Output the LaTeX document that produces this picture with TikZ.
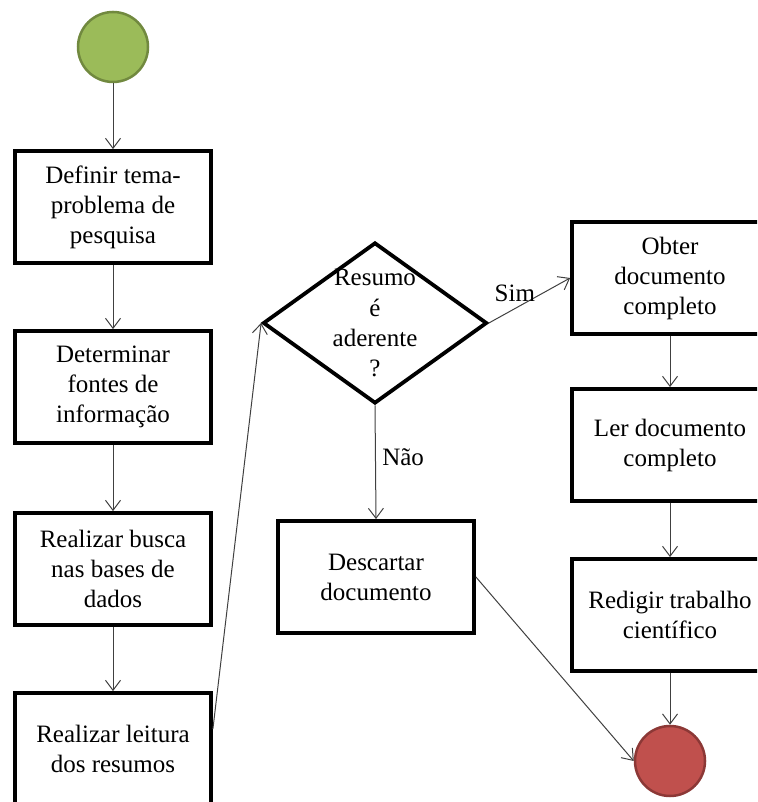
\documentclass[tikz,border=0pt]{standalone}
\usepackage{fontspec}
\setmainfont{Liberation Serif}
\usetikzlibrary{positioning, shapes.geometric, arrows.meta}
\definecolor{cinicio}{RGB}{155,187,89}
\definecolor{cinicioborda}{RGB}{113,137,63}
\definecolor{cfim}{RGB}{192,80,77}
\definecolor{cfimborda}{RGB}{140,56,54}
\definecolor{cseta}{RGB}{64,64,64}

\begin{document}
\begin{tikzpicture}[x=1pt, y=1pt, font=\fontsize{25}{30}\selectfont,
    >={Straight Barb[length=10pt, width=15pt]},
    etapa/.style={draw, line width=3.8pt, minimum width=196pt, minimum height=112pt, align=center, inner sep=0pt},
    decisao/.style={diamond, draw, line width=3.8pt, aspect=1.386, minimum width=224pt, minimum height=161pt, inner sep=-4pt, align=center},
    terminal/.style={circle, line width=2.5pt, minimum size=70pt, inner sep=0pt},
    seta/.style={->, cseta, line width=1pt},
    rot/.style={text=black}]

  \useasboundingbox (0,0) rectangle (757,802);
  \clip (0,0) rectangle (757,802);

  % coluna da esquerda
  \node[terminal, fill=cinicio, draw=cinicioborda] (inicio) at (113,755) {};
  \node[etapa] (tema) at (113,595) {Definir tema-\\problema de\\pesquisa};
  \node[etapa] (fontes) at (113,415) {Determinar\\fontes de\\informação};
  \node[etapa] (busca) at (113,233) {Realizar busca\\nas bases de\\dados};
  \node[etapa] (leitura) at (113,53) {Realizar leitura\\dos resumos};

  % decisao
  \node[decisao] (resumo) at (375,479) {Resumo\\é\\aderente\\?};
  \node[etapa] (descartar) at (376,225) {Descartar\\documento};

  % coluna da direita
  \node[etapa] (obter) at (670,524) {Obter\\documento\\completo};
  \node[etapa] (ler) at (670,357) {Ler documento\\completo};
  \node[etapa] (redigir) at (670,187) {Redigir trabalho\\científico};
  \node[terminal, fill=cfim, draw=cfimborda] (fim) at (670,41) {};

  % fluxos
  \draw[seta] (inicio) -- (tema);
  \draw[seta] (tema) -- (fontes);
  \draw[seta] (fontes) -- (busca);
  \draw[seta] (busca) -- (leitura);
  \draw[seta] ([yshift=20pt]leitura.east) -- (resumo.west);
  \draw[seta] (resumo.east) -- node[rot, pos=0.32, above=3pt]{Sim} (obter.west);
  \draw[seta] (resumo.south) -- node[rot, right=3pt, yshift=5pt]{Não} (descartar.north);
  \draw[seta] (descartar.east) -- (fim.west);
  \draw[seta] (obter) -- (ler);
  \draw[seta] (ler) -- (redigir);
  \draw[seta] (redigir) -- (fim);
\end{tikzpicture}
\end{document}
